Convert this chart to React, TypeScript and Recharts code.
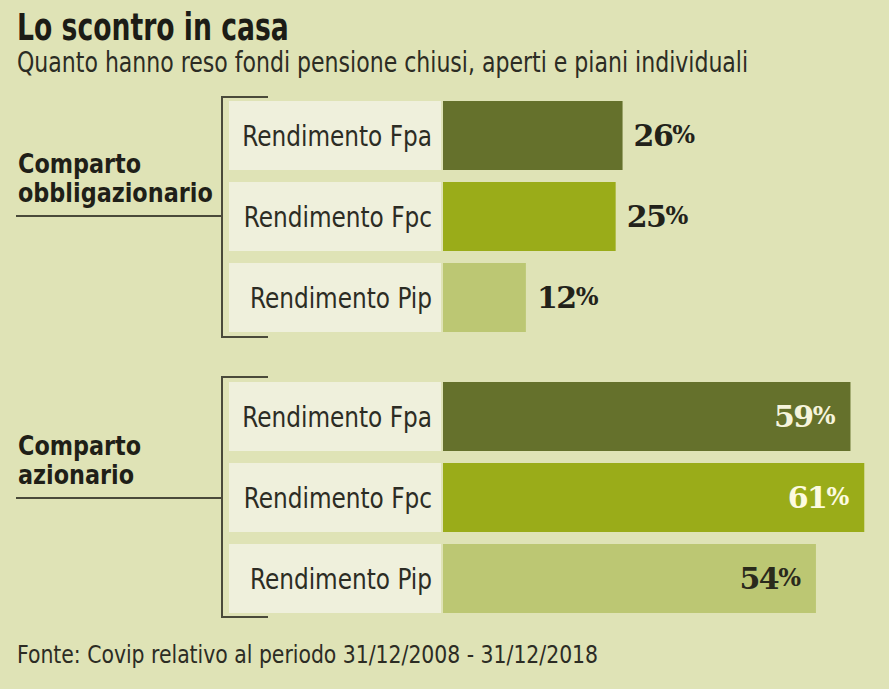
import React from "react";
import { BarChart, Bar, XAxis, YAxis, Cell, LabelList } from "recharts";

const categories = ["Rendimento Fpa", "Rendimento Fpc", "Rendimento Pip"];
const obbligazionario = [26, 25, 12];
const azionario = [59, 61, 54];
const groupNames = [
  ["Comparto", "obbligazionario"],
  ["Comparto", "azionario"],
];

const BG = "#dfe3b6";
const BOX = "#eff0dc";
const BAR_COLORS = ["#65712c", "#9aac19", "#bcc773"];
const INSIDE_TEXT = ["#f6f4dc", "#fdfbe0", "#2a2a1c"];
const NARROW = "'Liberation Sans Narrow', 'DejaVu Sans Condensed', 'DejaVu Sans', sans-serif";
const SERIF = "'DejaVu Serif', 'Liberation Serif', serif";

// squeezed text: the original uses a condensed face we don't have
const Squeezed = ({ x, y, sx, anchor, children, ...rest }: any) => (
  <text transform={`translate(${x} ${y}) scale(${sx} 1)`} textAnchor={anchor || "start"} {...rest}>
    {children}
  </text>
);

const CategoryTick = (props: any) => {
  const { y, payload } = props;
  return (
    <g>
      <rect x={229} y={y - 34.5} width={212} height={69} fill={BOX} />
      <Squeezed
        x={432}
        y={y + 10}
        sx={0.89}
        anchor="end"
        fontFamily={NARROW}
        fontSize={29}
        fill="#2c2c24"
      >
        {payload.value}
      </Squeezed>
    </g>
  );
};

function makeLabel(inside: boolean) {
  return (props: any) => {
    const { x, y, width, height, value, index } = props;
    const cy = y + height / 2 + 10;
    const tx = inside ? x + width - 15 : x + width + 11;
    const fill = inside ? INSIDE_TEXT[index] : "#22221a";
    return (
      <text
        x={tx}
        y={cy}
        textAnchor={inside ? "end" : "start"}
        fontFamily={SERIF}
        fontWeight="bold"
        fill={fill}
      >
        <tspan fontSize={30} letterSpacing={-1.5}>{value}</tspan>
        <tspan fontSize={24} dy={-3}>%</tspan>
      </text>
    );
  };
}

function GroupChart({ values, inside, top }: { values: number[]; inside: boolean; top: number }) {
  const data = categories.map((name, i) => ({ name, value: values[i] }));
  return (
    <div style={{ position: "absolute", left: 0, top }}>
      <BarChart
        width={889}
        height={243}
        data={data}
        layout="vertical"
        margin={{ top: 0, right: 4, bottom: 0, left: 0 }}
      >
        <XAxis type="number" domain={[0, 64]} hide />
        <YAxis
          type="category"
          dataKey="name"
          width={443}
          axisLine={false}
          tickLine={false}
          tick={<CategoryTick />}
        />
        <Bar dataKey="value" barSize={69} isAnimationActive={false}>
          {data.map((d, i) => (
            <Cell key={d.name} fill={BAR_COLORS[i]} />
          ))}
          <LabelList dataKey="value" content={makeLabel(inside)} />
        </Bar>
      </BarChart>
    </div>
  );
}

function Bracket({ top, bottom, mid, names }: { top: number; bottom: number; mid: number; names: string[] }) {
  return (
    <g>
      <path
        d={`M268 ${top} H222 V${bottom} H268 M222 ${mid} H16`}
        fill="none"
        stroke="#4a4a3a"
        strokeWidth={2}
      />
      <Squeezed x={18} y={mid - 43} sx={0.92} fontFamily={NARROW} fontWeight="bold" fontSize={27} fill="#1f1f18">
        {names[0]}
      </Squeezed>
      <Squeezed x={18} y={mid - 14} sx={0.92} fontFamily={NARROW} fontWeight="bold" fontSize={27} fill="#1f1f18">
        {names[1]}
      </Squeezed>
    </g>
  );
}

export default function App() {
  return (
    <div
      style={{
        position: "absolute",
        left: 0,
        top: 0,
        width: 889,
        height: 689,
        background: BG,
        overflow: "hidden",
      }}
    >
      <svg width={889} height={689} style={{ position: "absolute", left: 0, top: 0 }}>
        <Squeezed x={17} y={40} sx={0.8} fontFamily={NARROW} fontWeight="bold" fontSize={37} fill="#1c1c16">
          Lo scontro in casa
        </Squeezed>
        <Squeezed x={17} y={72} sx={0.875} fontFamily={NARROW} fontSize={28} fill="#2c2c24">
          Quanto hanno reso fondi pensione chiusi, aperti e piani individuali
        </Squeezed>
        <Bracket top={97} bottom={337} mid={216} names={groupNames[0]} />
        <Bracket top={377} bottom={617} mid={498} names={groupNames[1]} />
        <Squeezed x={17} y={663} sx={0.945} fontFamily={NARROW} fontSize={24} fill="#2c2c24">
          Fonte: Covip relativo al periodo 31/12/2008 - 31/12/2018
        </Squeezed>
      </svg>
      <GroupChart values={obbligazionario} inside={false} top={95} />
      <GroupChart values={azionario} inside={true} top={376} />
    </div>
  );
}
